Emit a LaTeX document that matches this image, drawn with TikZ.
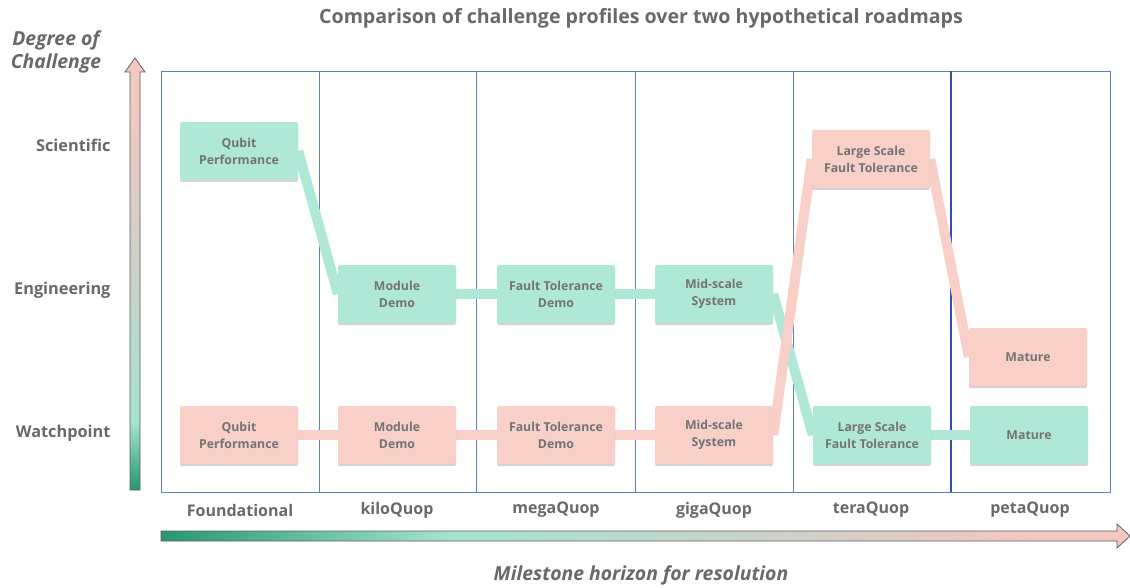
\documentclass[tikz,border=0pt]{standalone}
\usepackage{fontspec}
\setmainfont{Open Sans}
\usetikzlibrary{shadows,backgrounds}
\definecolor{tealD}{RGB}{40,150,115}
\definecolor{mintL}{RGB}{165,228,208}
\definecolor{grayP}{RGB}{208,208,202}
\definecolor{pinkA}{RGB}{242,200,192}
\definecolor{tealbox}{RGB}{176,232,216}
\definecolor{pinkbox}{RGB}{248,208,200}
\definecolor{txt}{RGB}{115,115,115}
\definecolor{lbl}{RGB}{105,105,105}
\definecolor{framec}{RGB}{95,125,205}
\definecolor{frameD}{RGB}{50,80,170}
\definecolor{arrowline}{RGB}{95,95,95}
\pgfdeclareverticalshading{vbar}{100bp}{color(0bp)=(tealD); color(25bp)=(tealD); color(33bp)=(mintL); color(52bp)=(grayP); color(70bp)=(pinkA); color(100bp)=(pinkA)}
\pgfdeclarehorizontalshading{hbar}{100bp}{color(0bp)=(tealD); color(25bp)=(tealD); color(40bp)=(mintL); color(58bp)=(grayP); color(70bp)=(pinkA); color(100bp)=(pinkA)}
\tikzset{
  box/.style={rectangle, rounded corners=2pt, minimum width=118, minimum height=58, align=center,
    font=\fontsize{12.3}{17}\selectfont\bfseries, text=txt,
    drop shadow={shadow xshift=0pt, shadow yshift=-2pt, opacity=0.35, fill=gray}},
  tbox/.style={box, fill=tealbox},
  pbox/.style={box, fill=pinkbox},
  tlink/.style={draw=tealbox, line width=10pt},
  plink/.style={draw=pinkbox, line width=10pt},
  rowlbl/.style={font=\fontsize{16.3}{19}\selectfont\bfseries, text=lbl, anchor=east},
  collbl/.style={font=\fontsize{16}{18}\selectfont\bfseries, text=lbl},
  axlbl/.style={font=\fontsize{19.4}{23}\selectfont\bfseries\itshape, text=lbl},
  framel/.style={draw=framec, line width=0.9pt},
  arrowshape/.style={draw=arrowline, line width=0.8pt}
}
\begin{document}
\begin{tikzpicture}[x=1pt,y=-1pt]
\useasboundingbox (0,0) rectangle (1130,588);
% title
\node[font=\fontsize{19.6}{22}\selectfont\bfseries, text=lbl] (title) at (641,18) {Comparison of challenge profiles over two hypothetical roadmaps};
% axis labels
\node[axlbl, align=center] (ylab) at (56,52) {Degree of\\Challenge};
\node[axlbl] (xlab) at (641,575) {Milestone horizon for resolution};
% row labels
\node[rowlbl] (rs) at (114,145) {Scientific};
\node[rowlbl] (re) at (114,290) {Engineering};
\node[rowlbl] (rw) at (114,433) {Watchpoint};
% column labels
\node[collbl] (c1) at (240,510) {Foundational};
\node[collbl] (c2) at (397,510) {kiloQuop};
\node[collbl] (c3) at (556,510) {megaQuop};
\node[collbl] (c4) at (714,510) {gigaQuop};
\node[collbl] (c5) at (871,510) {teraQuop};
\node[collbl] (c6) at (1030,510) {petaQuop};
% arrows
\path[arrowshape, shading=vbar] (130,490) -- (130,72) -- (125,72) -- (135,58) -- (145,72) -- (140,72) -- (140,490) -- cycle;
\path[arrowshape, shading=hbar] (161,531) -- (1117,531) -- (1117,524) -- (1130,536) -- (1117,548) -- (1117,541) -- (161,541) -- cycle;
% teal boxes
\node[tbox] (tqp) at (239,151) {Qubit\\Performance};
\node[tbox] (tmd) at (397,294) {Module\\Demo};
\node[tbox] (tft) at (556,294) {Fault Tolerance\\Demo};
\node[tbox] (tms) at (714,294) {Mid-scale\\System};
\node[tbox] (tls) at (872,435) {Large Scale\\Fault Tolerance};
\node[tbox] (tma) at (1029,435) {Mature};
% pink boxes
\node[pbox] (pqp) at (239,435) {Qubit\\Performance};
\node[pbox] (pmd) at (397,435) {Module\\Demo};
\node[pbox] (pft) at (556,435) {Fault Tolerance\\Demo};
\node[pbox] (pms) at (714,435) {Mid-scale\\System};
\node[pbox] (pls) at (871,159) {Large Scale\\Fault Tolerance};
\node[pbox] (pma) at (1028,357) {Mature};
\begin{pgfonlayer}{background}
% frame
\draw[framel] (161,71) rectangle (1110,492);
\foreach \x in {319,476,635,793} \draw[framel] (\x,71) -- (\x,492);
\draw[draw=frameD, line width=1.3pt] (951,71) -- (951,492);
% connectors
\draw[tlink] (tqp.east) -- (tmd.west);
\draw[tlink] (tmd.east) -- (tft.west);
\draw[tlink] (tft.east) -- (tms.west);
\draw[tlink] (tms.east) -- (tls.west);
\draw[tlink] (tls.east) -- (tma.west);
\draw[plink] (pqp.east) -- (pmd.west);
\draw[plink] (pmd.east) -- (pft.west);
\draw[plink] (pft.east) -- (pms.west);
\draw[plink] (pms.east) -- (pls.west);
\draw[plink] (pls.east) -- (pma.west);
\end{pgfonlayer}
\end{tikzpicture}
\end{document}
